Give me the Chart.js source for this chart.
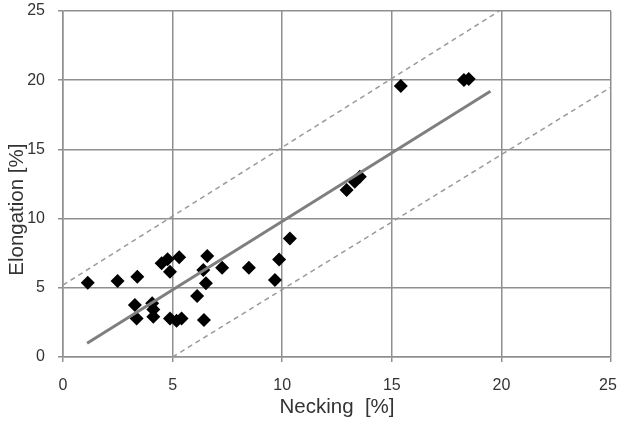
<!DOCTYPE html>
<html>
<head>
<meta charset="utf-8">
<script src="https://cdn.jsdelivr.net/npm/chart.js@4"></script>
<style>
  html, body { margin: 0; padding: 0; background: #fff; }
  #wrap { width: 618px; height: 424px; }
</style>
</head>
<body>
<div id="wrap"><canvas id="chart"></canvas></div>
<script>
// measured points, necking vs elongation
var necking = [1.13, 2.49, 3.39, 3.28, 3.36, 4.07, 4.12, 4.12, 4.5, 4.77, 4.88, 5.3, 4.88, 5.18, 5.41,
               6.58, 6.4, 6.52, 6.12, 6.43, 7.26, 8.48, 10.35, 9.86, 9.67, 15.41, 18.29, 18.51, 12.94, 13.31, 13.54];
var elongation = [5.37, 5.49, 5.8, 3.76, 2.79, 3.88, 3.44, 2.91, 6.77, 7.06, 6.16, 7.2, 2.79, 2.62, 2.79,
                  7.3, 6.29, 5.32, 4.41, 2.67, 6.45, 6.45, 8.57, 7.05, 5.56, 19.58, 20.01, 20.09, 12.07, 12.67, 13.03];

// solid trend line and the two dashed bounds
var trendX = [1.1, 19.5];
var trendY = [1.0, 19.2];
var upperX = [0, 19.9];
var upperY = [5.2, 25];
var lowerX = [5, 25];
var lowerY = [0, 19.5];

var axisTicks = [0, 5, 10, 15, 20, 25];

function toPoints(xs, ys) {
    return xs.map(function (x, i) { return { x: x, y: ys[i] }; });
}

// no extra room for overhanging tick labels
function noPad(scale) {
    scale.paddingTop = 0;
    scale.paddingBottom = 0;
    scale.paddingLeft = 0;
    scale.paddingRight = 0;
}

// nudge the last x label inside the canvas, like the original does
var lastLabelNudge = {
    id: 'lastLabelNudge',
    beforeDraw: function (chart) {
        var items = chart.scales.x.getLabelItems(chart.chartArea);
        if (items && items.length) {
            items[items.length - 1].options.translation[0] -= 3;
        }
    }
};

var gridColor = '#8f8f8f';
var textColor = '#333333';

var ctx = document.getElementById('chart').getContext('2d');
new Chart(ctx, {
    type: 'scatter',
    data: {
        datasets: [
            {
                label: 'upper',
                data: toPoints(upperX, upperY),
                showLine: true,
                borderColor: '#9a9a9a',
                borderWidth: 1.5,
                borderDash: [5, 4],
                pointRadius: 0
            },
            {
                label: 'lower',
                data: toPoints(lowerX, lowerY),
                showLine: true,
                borderColor: '#9a9a9a',
                borderWidth: 1.5,
                borderDash: [5, 4],
                pointRadius: 0
            },
            {
                label: 'trend',
                data: toPoints(trendX, trendY),
                showLine: true,
                borderColor: '#7f7f7f',
                borderWidth: 3,
                pointRadius: 0
            },
            {
                label: 'samples',
                data: toPoints(necking, elongation),
                pointStyle: 'rectRot',
                pointRadius: 7,
                pointBackgroundColor: '#000',
                pointBorderColor: '#000',
                pointBorderWidth: 0
            }
        ]
    },
    options: {
        responsive: true,
        maintainAspectRatio: false,
        animation: false,
        layout: {
            autoPadding: false,
            padding: { top: 11, right: 7, left: 0, bottom: 0 }
        },
        plugins: {
            legend: { display: false },
            tooltip: { enabled: false }
        },
        scales: {
            x: {
                type: 'linear',
                min: 0,
                max: 25,
                afterBuildTicks: function (scale) {
                    scale.ticks = axisTicks.map(function (v) { return { value: v }; });
                },
                afterFit: function (scale) { scale.height = 67; noPad(scale); },
                grid: { color: gridColor, lineWidth: 1.5, tickLength: 5 },
                border: { color: gridColor, width: 1.5 },
                ticks: {
                    padding: 14,
                    color: textColor,
                    font: { family: 'Liberation Sans, Arial, sans-serif', size: 16 }
                },
                title: {
                    display: true,
                    text: 'Necking  [%]',
                    color: textColor,
                    padding: { top: 0, bottom: 4 },
                    font: { family: 'Liberation Sans, Arial, sans-serif', size: 20.5 }
                }
            },
            y: {
                type: 'linear',
                min: 0,
                max: 25,
                afterBuildTicks: function (scale) {
                    scale.ticks = axisTicks.map(function (v) { return { value: v }; });
                },
                afterFit: function (scale) { scale.width = 63; noPad(scale); },
                grid: { color: gridColor, lineWidth: 1.5, tickLength: 5 },
                border: { color: gridColor, width: 1.5 },
                ticks: {
                    padding: 13,
                    color: textColor,
                    font: { family: 'Liberation Sans, Arial, sans-serif', size: 16 }
                },
                title: {
                    display: true,
                    // trailing spaces push the visible text a bit lower, as in the original
                    text: 'Elongation [%]         ',
                    color: textColor,
                    padding: { top: 5, bottom: 0 },
                    font: { family: 'Liberation Sans, Arial, sans-serif', size: 20.5 }
                }
            }
        }
    },
    plugins: [lastLabelNudge]
});
</script>
</body>
</html>
